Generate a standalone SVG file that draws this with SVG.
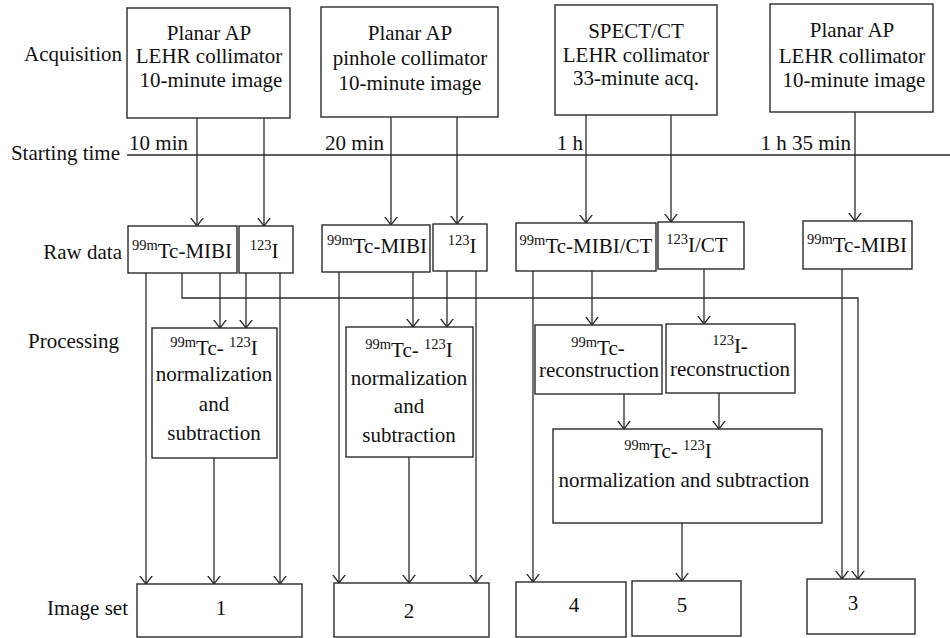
<svg xmlns="http://www.w3.org/2000/svg" width="950" height="638" viewBox="0 0 950 638">
<style>
text{font-family:"Liberation Serif","DejaVu Serif","Noto Serif",Tinos,serif;font-size:21px;fill:#111}
.c{text-anchor:middle}
.e{text-anchor:end}
.sup{font-size:14.5px}
.box{fill:#fff;stroke:#2a2a2a;stroke-width:1.4}
.ln{fill:none;stroke:#2a2a2a;stroke-width:1.3}
.ar{fill:none;stroke:#2a2a2a;stroke-width:1.3;marker-end:url(#a)}
</style>
<defs>
<marker id="a" viewBox="0 0 9 14" refX="8.5" refY="7" markerWidth="9" markerHeight="14" markerUnits="userSpaceOnUse" orient="auto">
<path d="M0,0.5 L8.5,7 L0,13.5" fill="none" stroke="#2a2a2a" stroke-width="1.3"/>
</marker>
</defs>
<rect width="950" height="638" fill="#fff"/>

<g id="row-labels">
<text class="e" x="122" y="61">Acquisition</text>
<text class="e" x="120" y="160">Starting time</text>
<text class="e" x="122" y="259">Raw data</text>
<text class="e" x="119" y="348">Processing</text>
<text class="e" x="128" y="615">Image set</text>
</g>

<g id="timeline">
<line class="ln" x1="127" y1="155" x2="950" y2="155"/>
<text class="e" x="188" y="150">10 min</text>
<text class="e" x="384" y="150">20 min</text>
<text class="e" x="583" y="150">1 h</text>
<text class="e" x="851" y="150">1 h 35 min</text>
</g>

<g id="connectors">
<line class="ar" x1="197" y1="118" x2="197" y2="226"/>
<line class="ar" x1="264" y1="118" x2="264" y2="226"/>
<line class="ar" x1="391" y1="117" x2="391" y2="225"/>
<line class="ar" x1="457" y1="117" x2="457" y2="224"/>
<line class="ar" x1="586" y1="115" x2="586" y2="223"/>
<line class="ar" x1="671" y1="115" x2="671" y2="222"/>
<line class="ar" x1="855" y1="112" x2="855" y2="221"/>

<line class="ar" x1="146" y1="273" x2="146" y2="584"/>
<polyline class="ar" points="182,273 182,298 858,298 858,579"/>
<line class="ar" x1="220" y1="273" x2="220" y2="328"/>
<line class="ar" x1="246" y1="273" x2="246" y2="328"/>
<line class="ar" x1="280" y1="273" x2="280" y2="584"/>
<line class="ar" x1="339" y1="272" x2="339" y2="583"/>
<line class="ar" x1="413" y1="272" x2="413" y2="327"/>
<line class="ar" x1="447" y1="271" x2="447" y2="327"/>
<line class="ar" x1="476" y1="271" x2="476" y2="583"/>
<line class="ar" x1="533" y1="271" x2="533" y2="582"/>
<line class="ar" x1="592" y1="271" x2="592" y2="325"/>
<line class="ar" x1="704" y1="269" x2="704" y2="324"/>
<line class="ar" x1="842" y1="269" x2="842" y2="579"/>
<line class="ar" x1="214" y1="458" x2="214" y2="584"/>
<line class="ar" x1="409" y1="457" x2="409" y2="583"/>
<line class="ar" x1="624" y1="394" x2="624" y2="429"/>
<line class="ar" x1="719" y1="393" x2="719" y2="429"/>
<line class="ar" x1="682" y1="523" x2="682" y2="581"/>
</g>

<g id="acq1"><rect class="box" x="127" y="8" width="163" height="110"/>
<text class="c" x="209" y="40">Planar AP</text><text class="c" x="209" y="63">LEHR collimator</text><text class="c" x="211" y="87">10-minute image</text></g>
<g id="acq2"><rect class="box" x="321" y="7" width="177" height="110"/>
<text class="c" x="410" y="40">Planar AP</text><text class="c" x="410" y="65">pinhole collimator</text><text class="c" x="410" y="90">10-minute image</text></g>
<g id="acq3"><rect class="box" x="555" y="5" width="162" height="110"/>
<text class="c" x="636" y="38">SPECT/CT</text><text class="c" x="636" y="62">LEHR collimator</text><text class="c" x="636" y="85">33-minute acq.</text></g>
<g id="acq4"><rect class="box" x="770" y="4" width="163" height="108"/>
<text class="c" x="852" y="37">Planar AP</text><text class="c" x="852" y="63">LEHR collimator</text><text class="c" x="854" y="87">10-minute image</text></g>

<g id="raw1a"><rect class="box" x="128" y="226" width="109" height="47"/>
<text class="c" x="182" y="258"><tspan class="sup" dy="-8">99m</tspan><tspan dy="8">Tc-MIBI</tspan></text></g>
<g id="raw1b"><rect class="box" x="239" y="226" width="54" height="47"/>
<text class="c" x="264" y="258"><tspan class="sup" dy="-8">123</tspan><tspan dy="8">I</tspan></text></g>
<g id="raw2a"><rect class="box" x="322" y="225" width="108" height="47"/>
<text class="c" x="377" y="253"><tspan class="sup" dy="-8">99m</tspan><tspan dy="8">Tc-MIBI</tspan></text></g>
<g id="raw2b"><rect class="box" x="433" y="224" width="54" height="47"/>
<text class="c" x="462" y="253"><tspan class="sup" dy="-8">123</tspan><tspan dy="8">I</tspan></text></g>
<g id="raw3a"><rect class="box" x="516" y="223" width="140" height="48"/>
<text class="c" x="586" y="253"><tspan class="sup" dy="-8">99m</tspan><tspan dy="8">Tc-MIBI/CT</tspan></text></g>
<g id="raw3b"><rect class="box" x="658" y="222" width="86" height="47"/>
<text class="c" x="697" y="252"><tspan class="sup" dy="-8">123</tspan><tspan dy="8">I/CT</tspan></text></g>
<g id="raw4"><rect class="box" x="803" y="221" width="109" height="48"/>
<text class="c" x="857" y="252"><tspan class="sup" dy="-8">99m</tspan><tspan dy="8">Tc-MIBI</tspan></text></g>

<g id="proc1"><rect class="box" x="152" y="328" width="125" height="130"/>
<text class="c" x="214" y="355"><tspan class="sup" dy="-8">99m</tspan><tspan dy="8">Tc- </tspan><tspan class="sup" dy="-8">123</tspan><tspan dy="8">I</tspan></text>
<text class="c" x="214" y="381">normalization</text><text class="c" x="214" y="411">and</text><text class="c" x="214" y="440">subtraction</text></g>
<g id="proc2"><rect class="box" x="346" y="327" width="127" height="130"/>
<text class="c" x="409" y="357"><tspan class="sup" dy="-8">99m</tspan><tspan dy="8">Tc- </tspan><tspan class="sup" dy="-8">123</tspan><tspan dy="8">I</tspan></text>
<text class="c" x="409" y="385">normalization</text><text class="c" x="409" y="413">and</text><text class="c" x="409" y="442">subtraction</text></g>
<g id="recon-tc"><rect class="box" x="535" y="325" width="127" height="69"/>
<text class="c" x="598" y="355"><tspan class="sup" dy="-8">99m</tspan><tspan dy="8">Tc-</tspan></text>
<text class="c" x="599" y="377">reconstruction</text></g>
<g id="recon-i"><rect class="box" x="666" y="324" width="129" height="69"/>
<text class="c" x="730" y="353"><tspan class="sup" dy="-8">123</tspan><tspan dy="8">I-</tspan></text>
<text class="c" x="730" y="376">reconstruction</text></g>
<g id="proc3"><rect class="box" x="553" y="429" width="269" height="94"/>
<text class="c" x="668" y="458"><tspan class="sup" dy="-8">99m</tspan><tspan dy="8">Tc- </tspan><tspan class="sup" dy="-8">123</tspan><tspan dy="8">I</tspan></text>
<text class="c" x="684" y="487">normalization and subtraction</text></g>

<g id="set1"><rect class="box" x="137" y="584" width="165" height="53"/><text class="c" x="221" y="615">1</text></g>
<g id="set2"><rect class="box" x="334" y="583" width="155" height="54"/><text class="c" x="409" y="618">2</text></g>
<g id="set4"><rect class="box" x="516" y="582" width="110" height="55"/><text class="c" x="574" y="612">4</text></g>
<g id="set5"><rect class="box" x="632" y="581" width="109" height="55"/><text class="c" x="682" y="612">5</text></g>
<g id="set3"><rect class="box" x="807" y="579" width="108" height="55"/><text class="c" x="853" y="610">3</text></g>
</svg>
